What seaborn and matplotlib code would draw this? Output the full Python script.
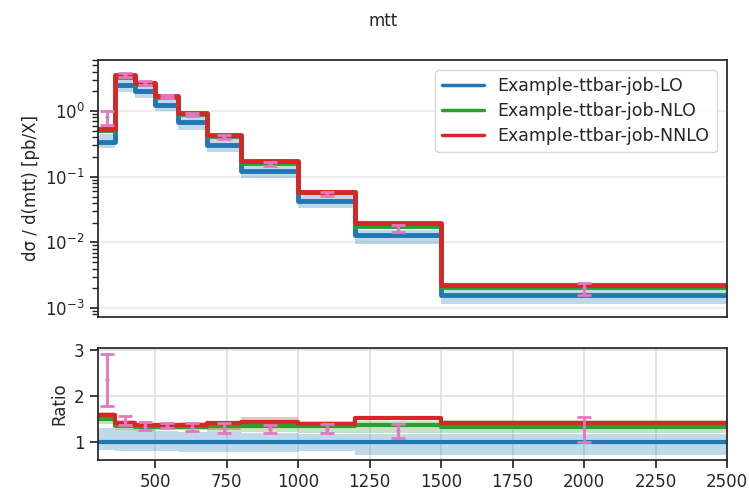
import numpy as np
import matplotlib
matplotlib.use("Agg")
import matplotlib.pyplot as plt
import seaborn as sns
from matplotlib.lines import Line2D

# bin edges of m_tt [GeV]
edges = [300, 360, 430, 500, 580, 680, 800, 1000, 1200, 1500, 2500]
centers = [330, 395, 465, 540, 630, 740, 900, 1100, 1350, 2000]

# central predictions [pb/GeV]
xs_lo = [0.342, 2.46, 1.99, 1.24, 0.672, 0.310, 0.122, 0.0428, 0.0132, 0.00158]
xs_nlo = [0.513, 3.30, 2.63, 1.64, 0.894, 0.415, 0.165, 0.0578, 0.0180, 0.00210]
xs_nnlo = [0.540, 3.49, 2.71, 1.69, 0.921, 0.440, 0.174, 0.0591, 0.0201, 0.00224]

# scale-variation envelopes, relative to each central value
lo_down = [0.81, 0.80, 0.80, 0.80, 0.77, 0.77, 0.78, 0.79, 0.72, 0.72]
lo_up = [1.30, 1.27, 1.25, 1.24, 1.22, 1.21, 1.20, 1.18, 1.17, 1.18]
nlo_down = [0.92, 0.94, 0.94, 0.95, 0.94, 0.91, 0.89, 0.89, 0.88, 0.90]
nlo_up = [1.08, 1.07, 1.06, 1.06, 1.07, 1.07, 1.07, 1.07, 1.07, 1.11]
nnlo_down = [0.96, 0.97, 0.98, 0.98, 0.98, 0.89, 0.97, 0.98, 0.97, 0.98]
nnlo_up = [1.05, 1.04, 1.03, 1.03, 1.02, 1.03, 1.08, 1.03, 1.02, 1.03]

# measurement with uncertainties
data = [0.814, 3.59, 2.67, 1.67, 0.887, 0.403, 0.157, 0.0548, 0.0162, 0.00201]
data_lo = [0.612, 3.35, 2.49, 1.60, 0.833, 0.372, 0.146, 0.0509, 0.0143, 0.00158]
data_hi = [0.999, 3.84, 2.85, 1.76, 0.941, 0.434, 0.168, 0.0591, 0.0182, 0.00243]

labels = ["Example-ttbar-job-LO", "Example-ttbar-job-NLO", "Example-ttbar-job-NNLO"]
colors = ["#1f77b4", "#2ca02c", "#d62728"]
pink = "#e377c2"

sns.set_style("ticks")
sns.set_context("notebook")
plt.rcParams["font.family"] = ["DejaVu Sans"]


def draw_steps(ax, vals, color, lw):
    y = np.append(vals, vals[-1])
    sns.lineplot(x=edges, y=y, ax=ax, color=color, lw=lw, drawstyle="steps-post",
                 estimator=None, sort=False, legend=False)


def draw_band(ax, lo, hi, color):
    ax.fill_between(edges, np.append(lo, lo[-1]), np.append(hi, hi[-1]),
                    step="post", color=color, alpha=0.28, lw=0)


fig = plt.figure(figsize=(7.49, 4.92), dpi=100)
ax1 = fig.add_axes([0.1308, 0.3563, 0.8398, 0.5217])
ax2 = fig.add_axes([0.1308, 0.065, 0.8398, 0.2276], sharex=ax1)

lo_arr = np.array(xs_lo)
series = [
    (np.array(xs_lo), np.array(lo_down), np.array(lo_up)),
    (np.array(xs_nlo), np.array(nlo_down), np.array(nlo_up)),
    (np.array(xs_nnlo), np.array(nnlo_down), np.array(nnlo_up)),
]

for (vals, dn, up), c in zip(series, colors):
    # main panel
    draw_band(ax1, vals * dn, vals * up, c)
    draw_steps(ax1, vals, c, 3.5)
    # ratio panel
    r = vals / lo_arr
    draw_band(ax2, r * dn, r * up, c)
    draw_steps(ax2, r, c, 3.0)

d = np.array(data)
err = [d - np.array(data_lo), np.array(data_hi) - d]
ax1.errorbar(centers, d, yerr=err, fmt=".", color=pink, ms=4, elinewidth=2,
             capsize=5, capthick=2, zorder=5)
ax2.errorbar(centers, d / lo_arr, yerr=[e / lo_arr for e in err], fmt=".", color=pink,
             ms=4, elinewidth=2, capsize=5, capthick=2, zorder=5)

ax1.set_yscale("log")
ax1.set_ylim(7.4e-4, 6.0)
ax1.set_xlim(300, 2500)
ax1.grid(axis="y", which="major", color="0.93", lw=1.5)
ax1.tick_params(axis="x", which="both", bottom=False, labelbottom=False)
ax1.set_ylabel("dσ / d(mtt) [pb/X]", fontsize=12)

handles = [Line2D([0], [0], color=c, lw=2.5) for c in colors]
ax1.legend(handles, labels, loc="upper right", fontsize=12.5, handlelength=2.4,
           labelspacing=0.4, borderaxespad=0.6)

ax2.set_ylim(0.6, 3.05)
ax2.set_yticks([1, 2, 3])
ax2.set_xticks([500, 750, 1000, 1250, 1500, 1750, 2000, 2250, 2500])
ax2.grid(True, color="0.85", lw=1.2, alpha=0.8)
ax2.set_ylabel("Ratio", fontsize=12)

for ax in (ax1, ax2):
    ax.tick_params(labelsize=12)
    for s in ax.spines.values():
        s.set_color("0.15")

fig.suptitle("mtt", x=0.511, y=0.975, fontsize=12)

fig.savefig("out.png", dpi=100)
